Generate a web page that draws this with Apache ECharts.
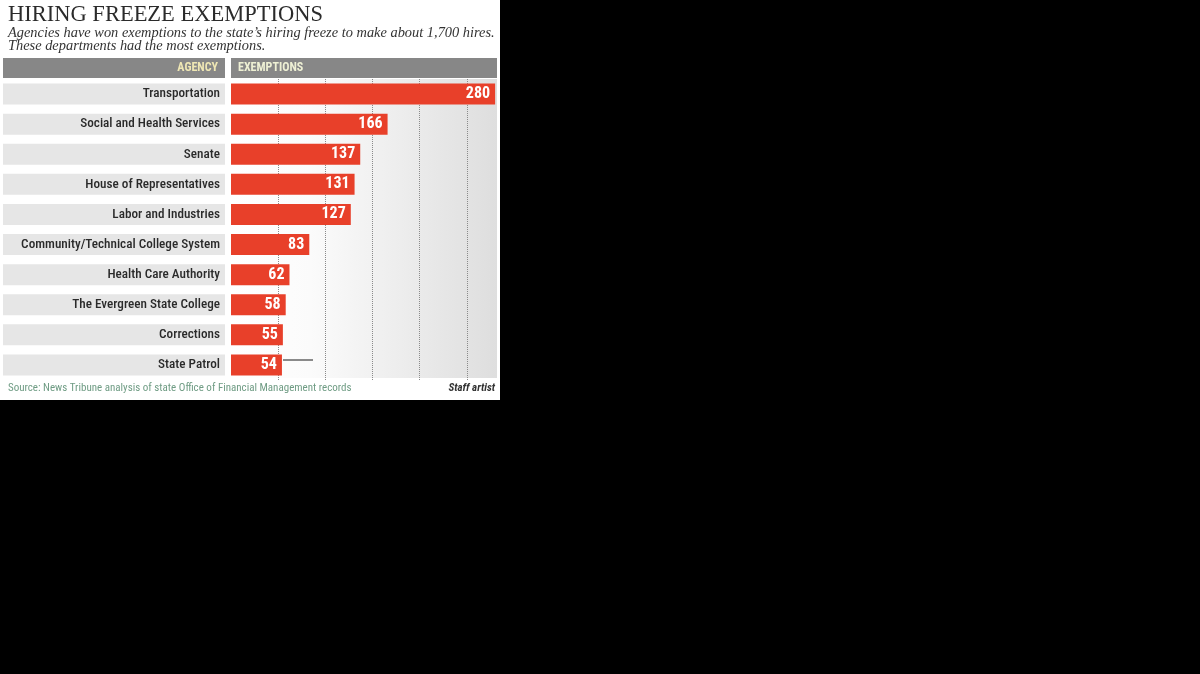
<!DOCTYPE html>
<html>
<head>
    <meta charset="utf-8">
    <title>Hiring freeze exemptions</title>
    <script src="https://cdn.jsdelivr.net/npm/echarts@6/dist/echarts.min.js"></script>
    <style>
        body { margin: 0; background: #000; }
    </style>
</head>
<body>
    <div id="main" style="width: 1200px;height:674px;"></div>
    <script type="text/javascript">
        var agencies = [
            'Transportation',
            'Social and Health Services',
            'Senate',
            'House of Representatives',
            'Labor and Industries',
            'Community/Technical College System',
            'Health Care Authority',
            'The Evergreen State College',
            'Corrections',
            'State Patrol'
        ];
        var exemptions = [280, 166, 137, 131, 127, 83, 62, 58, 55, 54];

        // Roboto with font-stretch gives the condensed face
        var cond = 'Roboto, "DejaVu Sans Condensed", sans-serif';
        var serif = '"Liberation Serif", "DejaVu Serif", serif';

        var myChart = echarts.init(document.getElementById('main'));

        var option = {
            backgroundColor: '#000',
            animation: false,
            title: [{
                text: 'HIRING FREEZE EXEMPTIONS',
                left: 8,
                top: 4,
                padding: 0,
                textStyle: {
                    fontFamily: serif,
                    fontWeight: 'normal',
                    fontSize: 22.5,
                    color: '#2b2b2b'
                }
            }, {
                text: 'Agencies have won exemptions to the state\u2019s hiring freeze to make about 1,700 hires.\nThese departments had the most exemptions.',
                left: 8,
                top: 26,
                padding: 0,
                textStyle: {
                    fontFamily: serif,
                    fontStyle: 'italic',
                    fontWeight: 'normal',
                    fontSize: 14.4,
                    lineHeight: 13.5,
                    color: '#333'
                }
            }],
            graphic: [
                // white card
                { type: 'rect', z: -10, shape: { x: 0, y: 0, width: 500, height: 400 }, style: { fill: '#fff' } },
                // plot background gradient
                {
                    type: 'rect', z: -5, shape: { x: 231, y: 79, width: 266, height: 299 },
                    style: {
                        fill: new echarts.graphic.LinearGradient(0, 0, 1, 0, [
                            { offset: 0, color: '#ffffff' },
                            { offset: 0.3, color: '#fbfbfb' },
                            { offset: 1, color: '#dedede' }
                        ])
                    }
                },
                // header bars
                { type: 'rect', shape: { x: 3, y: 58, width: 222, height: 20 }, style: { fill: '#878787' } },
                { type: 'rect', shape: { x: 231, y: 58, width: 266, height: 20 }, style: { fill: '#878787' } },
                {
                    type: 'text', x: 218, y: 68,
                    style: { text: 'AGENCY', fill: '#efe7b4', font: 'bold condensed 12px ' + cond, align: 'right', verticalAlign: 'middle' }
                },
                {
                    type: 'text', x: 238, y: 68,
                    style: { text: 'EXEMPTIONS', fill: '#eef0d4', font: 'bold condensed 12px ' + cond, align: 'left', verticalAlign: 'middle' }
                },
                // leader line next to State Patrol
                { type: 'line', shape: { x1: 283, y1: 360, x2: 313, y2: 360 }, style: { stroke: '#8a8a8a', lineWidth: 2 } },
                // footer
                {
                    type: 'text', x: 8, y: 388,
                    style: { text: 'Source: News Tribune analysis of state Office of Financial Management records', fill: '#6f9c84', font: 'condensed 11px ' + cond, verticalAlign: 'middle' }
                },
                {
                    type: 'text', x: 495, y: 388,
                    style: { text: 'Staff artist', fill: '#333', font: 'italic bold condensed 11px ' + cond, align: 'right', verticalAlign: 'middle' }
                }
            ],
            grid: {
                left: 231,
                top: 79,
                width: 266,
                height: 301,
                outerBoundsMode: 'none'
            },
            xAxis: {
                type: 'value',
                min: 0,
                max: 282,
                interval: 50,
                axisLabel: { show: false },
                axisLine: { show: false },
                axisTick: { show: false },
                splitLine: {
                    lineStyle: {
                        type: 'dotted',
                        color: ['transparent', '#8a8a8a', '#8a8a8a', '#8a8a8a', '#8a8a8a', '#8a8a8a']
                    }
                }
            },
            yAxis: {
                type: 'category',
                inverse: true,
                data: agencies,
                axisLine: { show: false },
                axisTick: { show: false },
                axisLabel: {
                    margin: 6,
                    width: 217,
                    height: 21,
                    lineHeight: 21,
                    padding: [0, 5, 0, 0],
                    align: 'right',
                    backgroundColor: '#e6e6e6',
                    fontFamily: cond,
                    fontStyle: 'condensed',
                    fontWeight: 500,
                    fontSize: 13.2,
                    color: '#2a2a2a'
                }
            },
            series: [{
                type: 'bar',
                data: exemptions,
                barWidth: 21,
                itemStyle: { color: '#e8402a' },
                label: {
                    show: true,
                    position: 'insideRight',
                    distance: 5,
                    color: '#fff',
                    fontFamily: cond,
                    fontStyle: 'condensed',
                    fontWeight: 'bold',
                    fontSize: 16
                }
            }]
        };

        myChart.setOption(option);
    </script>
</body>
</html>
